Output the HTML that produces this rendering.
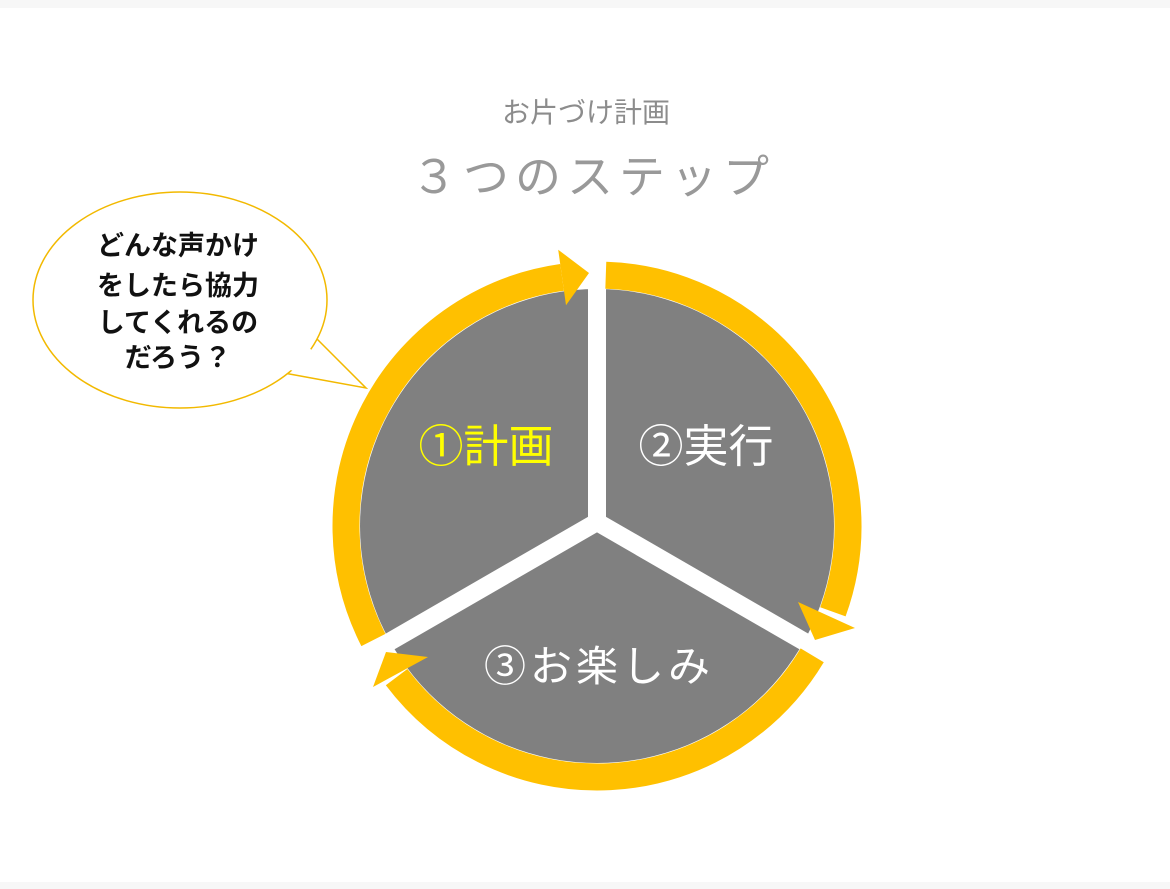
<!DOCTYPE html>
<html><head><meta charset="utf-8"><style>
html,body{margin:0;padding:0;background:#fff;}
body{width:1170px;height:889px;position:relative;overflow:hidden;font-family:"Liberation Sans","Noto Sans CJK JP",sans-serif;}
</style></head><body>
<div style="position:absolute;left:0;top:0;width:1170px;height:8px;background:#f7f7f7"></div>
<div style="position:absolute;left:0;top:882px;width:1170px;height:7px;background:#f7f7f7"></div>
<svg width="1170" height="889" style="position:absolute;left:0;top:0" font-family="Liberation Sans, Noto Sans CJK JP, sans-serif">
<text x="586" y="122" font-size="28" fill="#8c8c8c" text-anchor="middle">お片づけ計画</text>
<text x="593" y="193" font-size="46" fill="#999" text-anchor="middle" letter-spacing="6">３つのステップ</text>

<!-- speech bubble -->
<path d="M316,338 L366,388 L284,373" fill="#fff" stroke="#f2b900" stroke-width="1.5"/>
<ellipse cx="180" cy="300" rx="147" ry="108" fill="#fff" stroke="#f2b900" stroke-width="1.5"/>
<polygon points="305,345 360,386 290,370" fill="#fff"/>
<g font-size="27" font-weight="bold" fill="#111" text-anchor="middle">
<text x="178" y="255">どんな声かけ</text>
<text x="178" y="295">をしたら協力</text>
<text x="178" y="332">してくれるの</text>
<text x="178" y="367">だろう？</text>
</g>

<!-- pie -->
<circle cx="597" cy="526" r="237" fill="#808080"/>
<g stroke="#fff" stroke-width="18" stroke-linecap="butt">
<line x1="597" y1="526" x2="597" y2="280"/>
<line x1="597" y1="522" x2="810" y2="645"/>
<line x1="597" y1="522" x2="384" y2="645"/>
</g>

<!-- ring arrows -->
<g fill="none" stroke="#ffc000" stroke-width="27">
<path d="M373.4,640 A251,251 0 0 1 562.1,277.4"/>
<path d="M605.8,275.2 A251,251 0 0 1 832.9,611.8"/>
<path d="M812.2,655.3 A251,251 0 0 1 396.6,677.1"/>
</g>
<g fill="#ffc000">
<polygon points="566,305.2 558.2,249.7 589,273"/>
<polygon points="798,602 855,628 815,640"/>
<polygon points="428,657 373,687 386,652"/>
</g>

<text x="486" y="462" font-size="45" fill="#ffff00" text-anchor="middle">①計画</text>
<text x="706" y="462" font-size="45" fill="#fff" text-anchor="middle">②実行</text>
<text x="599" y="681" font-size="42" fill="#fff" text-anchor="middle" letter-spacing="4">③お楽しみ</text>
</svg>
</body></html>
